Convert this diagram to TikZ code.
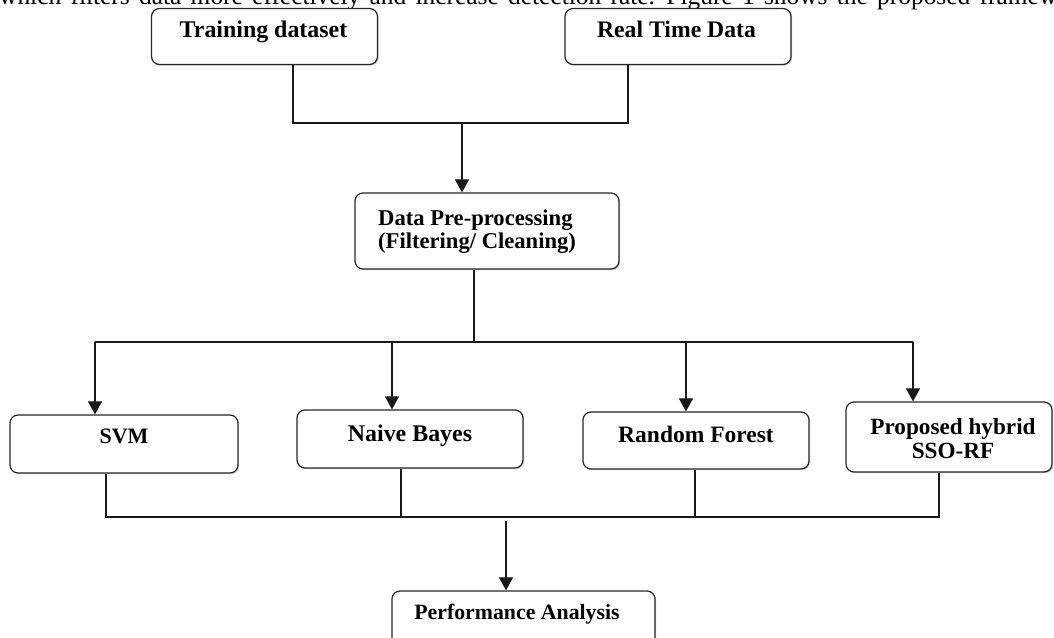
\documentclass[tikz,border=0pt]{standalone}
\usepackage{fontspec}
\setmainfont{Liberation Serif}
\usetikzlibrary{arrows.meta,shadows}
\begin{document}
\begin{tikzpicture}[x=1pt,y=-1pt,
  box/.style={draw=black!85,line width=1.2pt,rounded corners=8pt,fill=white,
    drop shadow={shadow xshift=1.2pt,shadow yshift=-1.2pt,opacity=0.35},
    inner sep=0pt,anchor=center},
  lbl/.style={inner sep=0pt,font=\bfseries\fontsize{#1}{#1}\selectfont},
  conn/.style={draw=black!90,line width=1.1pt},
  arr/.style={conn,-{Triangle[width=14pt,length=13pt]}}]
\useasboundingbox (0,0) rectangle (1054,637);
\clip (0,0) rectangle (1054,637);
% top running text
\node[anchor=base west,inner sep=0pt,font=\fontsize{25.4}{28}\selectfont] (runtext) at (-1,4.5)
  {\spaceskip=9.3pt plus 1pt which filters data more effectively and increase detection rate. Figure 1 shows the proposed framework};
% boxes
\node[box,minimum width=226pt,minimum height=56pt] (train) at (264.5,36.5) {};
\node[box,minimum width=226pt,minimum height=56pt] (real) at (678,36.5) {};
\node[box,minimum width=264pt,minimum height=76pt] (pre) at (487,231) {};
\node[box,minimum width=228pt,minimum height=58pt] (svm) at (124,444) {};
\node[box,minimum width=226pt,minimum height=58pt] (nb) at (410,439) {};
\node[box,minimum width=226pt,minimum height=57pt] (rf) at (696,440.5) {};
\node[box,minimum width=206pt,minimum height=70pt] (prop) at (949,437) {};
\node[box,minimum width=263pt,minimum height=70pt] (perf) at (523.5,626) {};
% labels
\node[lbl=23.9,anchor=base] (trainl) at (263.5,37) {Training dataset};
\node[lbl=23.7,anchor=base] (reall) at (676.5,37) {Real Time Data};
\node[lbl=22.6,anchor=north west,align=left] (prel) at (378,210)
  {Data Pre-processing\\(Filtering/ Cleaning)};
\node[lbl=22,anchor=base] (svml) at (124,443.5) {SVM};
\node[lbl=23.9,anchor=base] (nbl) at (410,441) {Naive Bayes};
\node[lbl=23.5,anchor=base] (rfl) at (696,442) {Random Forest};
\node[lbl=23.2,anchor=north,align=center] (propl) at (953,418.5)
  {Proposed hybrid\\SSO-RF};
\node[lbl=21.8,anchor=base] (perfl) at (517,619) {Performance Analysis};
% junction coordinates
\coordinate (tl) at (293,123);
\coordinate (tr) at (628,123);
\coordinate (ta) at (462,123);
\coordinate (pm) at (474,342);
\coordinate (h1) at (95,342);
\coordinate (h2) at (392,342);
\coordinate (h3) at (686,342);
\coordinate (h4) at (913,342);
\coordinate (b1) at (106,517);
\coordinate (b2) at (401,517);
\coordinate (b3) at (695,517);
\coordinate (b4) at (939,517);
\coordinate (pa) at (506,521);
% connectors
\draw[conn] (train.south -| tl) -- (tl) -- (tr) -- (real.south -| tr);
\draw[arr] (ta) -- (pre.north -| ta);
\draw[conn] (pre.south -| pm) -- (pm);
\draw[conn] (h1) -- (h4);
\draw[arr] (h1) -- (svm.north -| h1);
\draw[arr] (h2) -- (nb.north -| h2);
\draw[arr] (h3) -- (rf.north -| h3);
\draw[arr] (h4) -- (prop.north -| h4);
\draw[conn] (svm.south -| b1) -- (b1) -- (b4) -- (prop.south -| b4);
\draw[conn] (nb.south -| b2) -- (b2);
\draw[conn] (rf.south -| b3) -- (b3);
\draw[arr] (pa) -- (perf.north -| pa);
\end{tikzpicture}
\end{document}
